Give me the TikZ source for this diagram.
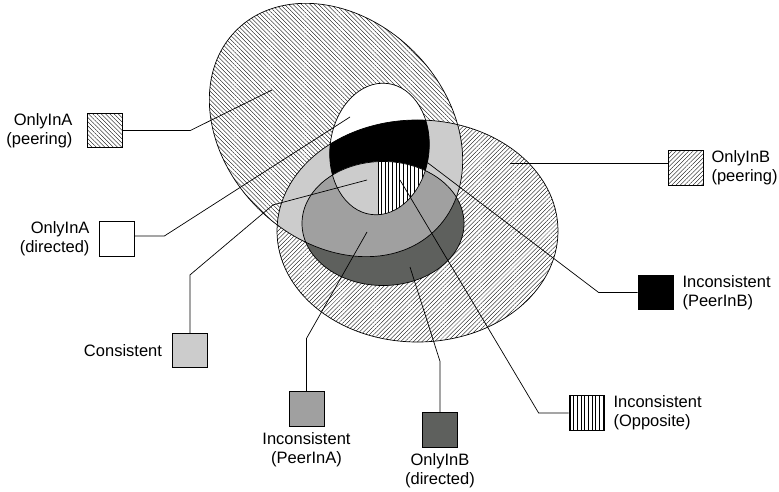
\documentclass[tikz,border=0pt]{standalone}
\usepackage{fontspec}
\setmainfont{Liberation Sans}
\usepackage{tikz}
\usetikzlibrary{patterns.meta,positioning}
\definecolor{ConsGrey}{HTML}{CCCCCC}
\definecolor{PeerAGrey}{HTML}{A0A0A0}
\definecolor{DirBGrey}{HTML}{5E605D}
\tikzset{
    % Outline of a set
    rim/.style={
        draw=black,
        line width=0.7pt
    },
    % Hatching, peering sets
    hatchA/.style={
        preaction={fill=white},
        pattern={Lines[angle=-45,distance=3pt,line width=0.35pt]}
    },
    hatchB/.style={
        preaction={fill=white},
        pattern={Lines[angle=45,distance=3pt,line width=0.35pt]}
    },
    % Vertical stripes, opposite
    stripes/.style={
        preaction={fill=white},
        pattern={Lines[angle=90,distance=3.7pt,line width=0.5pt]}
    },
    % Key box
    keybox/.style={
        draw=black,
        line width=0.7pt,
        minimum width=35pt,
        minimum height=34.5pt,
        inner sep=0pt
    },
    % Key text
    keytext/.style={
        inner sep=0pt,
        font=\fontsize{16.5pt}{19pt}\selectfont
    },
    % Leader line
    leader/.style={
        line width=0.7pt,
        draw=black
    }
}
\newcommand{\setA}{(336,130) ellipse [x radius=141pt, y radius=110.5pt, rotate=-45]}
\newcommand{\setAdir}{(379.5,149) ellipse [x radius=49.5pt, y radius=66pt, rotate=-7]}
\newcommand{\setB}{(417.5,231) ellipse [x radius=140.5pt, y radius=111pt]}
\newcommand{\setBdir}{(383,223.5) ellipse [x radius=81pt, y radius=62pt]}
\begin{document}
\begin{tikzpicture}[x=1pt, y=-1pt]
        \useasboundingbox (0,0) rectangle (779,492);

        % Set A
        \path[hatchA] \setA;
        \fill[white] \setAdir;

        % Set B
        \path[hatchB] \setB;
        \begin{scope}
            \clip \setA;
            \fill[ConsGrey] \setB;
        \end{scope}
        \begin{scope}
            \clip \setAdir;
            \fill[black] \setB;
        \end{scope}
        \fill[DirBGrey] \setBdir;
        \begin{scope}
            \clip \setA;
            \fill[PeerAGrey] \setBdir;
        \end{scope}
        \begin{scope}
            \clip \setAdir;
            \clip \setBdir;
            \fill[ConsGrey] (320,150) rectangle (378,230);
            \path[stripes] (378,150) rectangle (440,230);
            \draw[line width=0.8pt] (378,150) -- (378,230);
        \end{scope}

        % Outlines
        \draw[rim] \setA;
        \draw[rim] \setAdir;
        \draw[rim] \setB;
        \draw[rim] \setBdir;

        % Key boxes
        \node[keybox, hatchA] (pA) at (104.5,130.5) {};
        \node[keybox, fill=white] (dA) at (116.5,239) {};
        \node[keybox, fill=ConsGrey] (cons) at (190,350.5) {};
        \node[keybox, fill=PeerAGrey] (incA) at (306.5,409) {};
        \node[keybox, fill=DirBGrey] (dB) at (440,430) {};
        \node[keybox, stripes] (opp) at (586.5,413) {};
        \node[keybox, fill=black] (incB) at (655.5,292.5) {};
        \node[keybox, hatchB] (pB) at (685.5,168) {};

        % Key texts
        \node[keytext, align=right, left=14pt of pA] (pA-txt) {OnlyInA\\(peering)};
        \node[keytext, align=right, left=9pt of dA] (dA-txt) {OnlyInA\\(directed)};
        \node[keytext, align=right, left=10pt of cons] (cons-txt) {Consistent};
        \node[keytext, align=center, below=6pt of incA] (incA-txt) {Inconsistent\\(PeerInA)};
        \node[keytext, align=center, below=6pt of dB] (dB-txt) {OnlyInB\\(directed)};
        \node[keytext, align=left, right=9pt of opp] (opp-txt) {Inconsistent\\(Opposite)};
        \node[keytext, align=left, right=9pt of incB] (incB-txt) {Inconsistent\\(PeerInB)};
        \node[keytext, align=left, right=8pt of pB] (pB-txt) {OnlyInB\\(peering)};

        % Leader ends
        \coordinate (pA-end) at (272,90);
        \coordinate (dA-end) at (350,117);
        \coordinate (cons-end) at (367,180);
        \coordinate (incA-end) at (367,232);
        \coordinate (dB-end) at (410,267);
        \coordinate (opp-end) at (400,180);
        \coordinate (incB-end) at (428,163);
        \coordinate (pB-end) at (510,163);

        % Leaders
        \draw[leader] (pA.east) -- ++(68,0) -- (pA-end);
        \draw[leader] ([yshift=3pt]dA.east) -- ++(30,0) -- (dA-end);
        \draw[leader] (cons.north) -- ++(0,-58) -- ++(83,-70) -- (cons-end);
        \draw[leader] (incA.north) -- ++(0,-53) -- (incA-end);
        \draw[leader] (dB.north) -- ++(0,-51) -- (dB-end);
        \draw[leader] (opp.west) -- ++(-30,0) -- (opp-end);
        \draw[leader] (incB.west) -- ++(-39,0) -- (incB-end);
        \draw[leader] ([yshift=5pt]pB.west) -- (pB-end);
    \end{tikzpicture}
\end{document}
